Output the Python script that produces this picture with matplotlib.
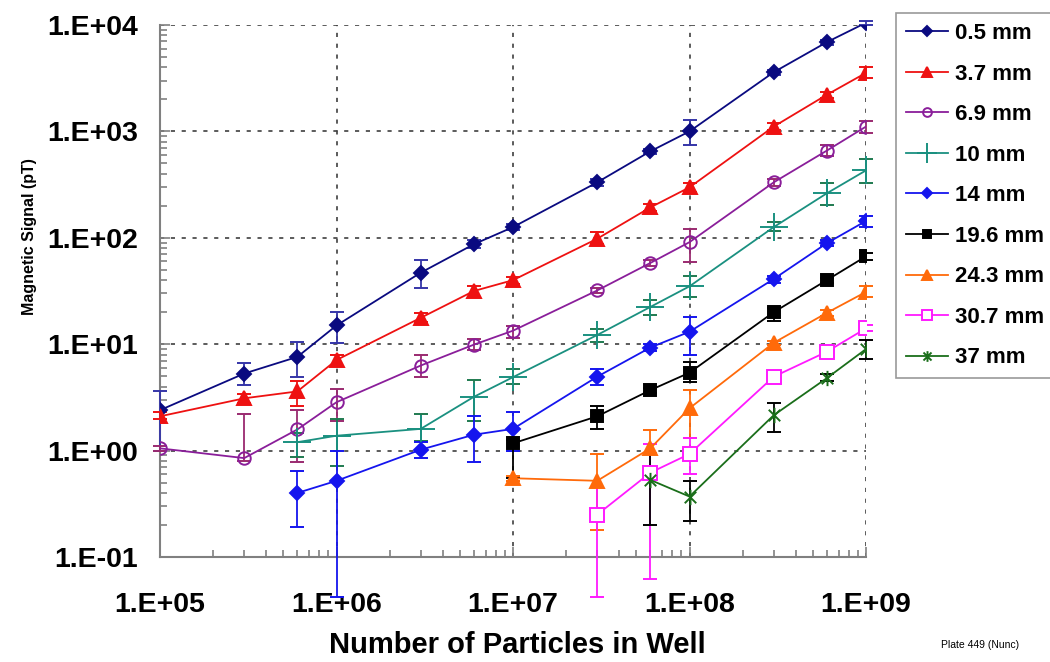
"""Magnetic signal versus particle count for several sensor distances (log-log)."""

import numpy as np
import matplotlib

matplotlib.use("Agg")
import matplotlib.pyplot as plt
from matplotlib.path import Path
from matplotlib.ticker import FuncFormatter, LogLocator, NullFormatter

nan = np.nan

particles = [1e5, 3e5, 6e5, 1e6, 3e6, 6e6, 1e7, 3e7, 6e7, 1e8, 3e8, 6e8, 1e9]

labels = ["0.5 mm", "3.7 mm", "6.9 mm", "10 mm", "14 mm",
          "19.6 mm", "24.3 mm", "30.7 mm", "37 mm"]

# signal (pT) and the low / high ends of each error bar
sig_05 = [2.4, 5.3, 7.6, 15, 47, 87, 126, 332, 650, 1000, 3600, 6900, 10500]
lo_05 = [1.0, 4.1, 4.9, 10.3, 34, 80, 118, 310, 610, 740, 3400, 6500, 10000]
hi_05 = [3.6, 6.7, 10.5, 20, 62, 95, 135, 355, 690, 1290, 3800, 7300, 11000]

sig_37 = [2.1, 3.1, 3.6, 7.1, 17.7, 31.6, 40, 98, 193, 298, 1110, 2210, 3550]
lo_37 = [2.0, 2.8, 2.6, 6.2, 16, 28, 37, 87, 180, 270, 1040, 2080, 3200]
hi_37 = [2.3, 3.4, 4.5, 7.9, 19.5, 35, 43, 114, 207, 330, 1190, 2350, 4000]

sig_69 = [1.05, 0.85, 1.58, 2.85, 6.3, 9.9, 13.4, 32, 58, 91, 332, 660, 1110]
lo_69 = [1.0, 0.8, 0.78, 1.9, 4.9, 8.8, 11.5, 30, 54, 59, 310, 590, 970]
hi_69 = [1.1, 2.2, 2.4, 3.8, 7.9, 11.2, 14.8, 34, 62, 120, 355, 740, 1240]

sig_10 = [nan, nan, 1.2, 1.38, 1.6, 3.2, 4.9, 12.2, 22.4, 35, 126, 262, 430]
lo_10 = [nan, nan, 0.88, 0.71, 1.22, 1.9, 4.2, 10.5, 19, 28, 115, 204, 330]
hi_10 = [nan, nan, 1.45, 2.0, 2.2, 4.6, 5.9, 14, 26, 43.6, 140, 330, 556]

sig_14 = [nan, nan, 0.4, 0.52, 1.02, 1.41, 1.6, 4.95, 9.3, 13.1, 41, 89, 144]
lo_14 = [nan, nan, 0.19, 0.042, 0.85, 0.78, 0.99, 4.1, 8.7, 7.9, 38, 84, 125]
hi_14 = [nan, nan, 0.64, 1.0, 1.2, 2.1, 2.3, 5.8, 10, 18, 44, 95, 160]

sig_196 = [nan] * 6 + [1.17, 2.1, 3.7, 5.4, 20, 40, 67]
lo_196 = [nan] * 6 + [0.55, 1.6, 3.5, 4.4, 16.5, 38, 62]
hi_196 = [nan] * 6 + [1.25, 2.6, 3.9, 6.8, 22, 42, 72]

sig_243 = [nan] * 6 + [0.55, 0.52, 1.05, 2.5, 10.3, 19.7, 31]
lo_243 = [nan] * 6 + [0.52, 0.18, 0.95, 1.3, 9.8, 18.5, 28]
hi_243 = [nan] * 6 + [0.58, 0.93, 1.55, 3.7, 10.8, 21, 35]

sig_307 = [nan] * 7 + [0.25, 0.62, 0.93, 4.95, 8.5, 14.1]
lo_307 = [nan] * 7 + [0.042, 0.062, 0.6, 4.7, 8.0, 13.3]
hi_307 = [nan] * 7 + [0.45, 1.15, 1.3, 5.2, 9.3, 15]

sig_370 = [nan] * 8 + [0.53, 0.37, 2.15, 4.8, 9.0]
lo_370 = [nan] * 8 + [0.2, 0.22, 1.5, 4.5, 7.3]
hi_370 = [nan] * 8 + [0.93, 0.52, 2.8, 5.2, 11]

# asterisk: an X crossed by a vertical stroke
STAR = Path(
    [(0, -1), (0, 1), (-0.75, -0.75), (0.75, 0.75), (-0.75, 0.75), (0.75, -0.75)],
    [Path.MOVETO, Path.LINETO] * 3,
)

styles = [
    dict(color="#0a0a80", ecolor="#3535a8", marker="D", ms=7, mfc="#0a0a80"),
    dict(color="#ee1111", ecolor="#ee1111", marker="^", ms=10, mfc="#ee1111"),
    dict(color="#8a1e9a", ecolor="#9a2a70", marker="o", ms=9, mfc="none"),
    dict(color="#1a9080", ecolor="#1f7a50", marker="+", ms=20, mfc="none"),
    dict(color="#1515ee", ecolor="#1515ee", marker="D", ms=7, mfc="#1515ee"),
    dict(color="#000000", ecolor="#000000", marker="s", ms=9, mfc="#000000"),
    dict(color="#ff6a0a", ecolor="#ff6a0a", marker="^", ms=10, mfc="#ff6a0a"),
    dict(color="#ff1aff", ecolor="#ff1aff", marker="s", ms=9.5, mfc="white"),
    dict(color="#1a6e1a", ecolor="#000000", marker=STAR, ms=11, mfc="none"),
]

series = [
    (sig_05, lo_05, hi_05), (sig_37, lo_37, hi_37), (sig_69, lo_69, hi_69),
    (sig_10, lo_10, hi_10), (sig_14, lo_14, hi_14), (sig_196, lo_196, hi_196),
    (sig_243, lo_243, hi_243), (sig_307, lo_307, hi_307), (sig_370, lo_370, hi_370),
]

FONT = ["Liberation Sans", "DejaVu Sans"]

fig = plt.figure(figsize=(10.5, 6.62), dpi=100)
ax = fig.add_axes([160 / 1050, 105 / 662, 706 / 1050, 532 / 662])

x = np.array(particles)
handles = []
for (sig, lo, hi), st, lab in zip(series, styles, labels):
    y = np.array(sig, dtype=float)
    lo = np.array(lo, dtype=float)
    hi = np.array(hi, dtype=float)
    keep = ~np.isnan(y)
    err = np.vstack([y[keep] - lo[keep], hi[keep] - y[keep]])
    line, caps, bars = ax.errorbar(
        x[keep], y[keep], yerr=err, color=st["color"], ecolor=st["ecolor"],
        elinewidth=1.3, capsize=5, capthick=1.3, lw=1.3,
        marker=st["marker"], ms=st["ms"], mfc=st["mfc"], mec=st["color"],
        mew=1.4, label=lab, zorder=3,
    )
    # error bars are allowed to run past the plot frame
    for c in caps:
        c.set_clip_on(False)
    for b in bars:
        b.set_clip_on(False)
    handles.append(line)

ax.set_xscale("log")
ax.set_yscale("log")
ax.set_xlim(1e5, 1e9)
ax.set_ylim(0.1, 1e4)

fmt = FuncFormatter(lambda v, _: f"1.E{int(round(np.log10(v))):+03d}")
for axis in (ax.xaxis, ax.yaxis):
    axis.set_major_locator(LogLocator(base=10, numticks=20))
    axis.set_minor_locator(LogLocator(base=10, subs=np.arange(2, 10), numticks=20))
    axis.set_major_formatter(fmt)
    axis.set_minor_formatter(NullFormatter())

ax.tick_params(which="both", direction="in", color="#808080", width=1.2)
ax.tick_params(which="major", length=7)
ax.tick_params(which="minor", length=5)
ax.tick_params(axis="x", which="major", pad=25)
ax.tick_params(axis="y", which="major", pad=16)
for lbl in ax.get_xticklabels() + ax.get_yticklabels():
    lbl.set_family(FONT)
    lbl.set_fontweight("bold")
    lbl.set_fontsize(20.5)

ax.grid(which="major", linestyle=(0, (2.5, 4)), color="#404040", linewidth=1.2)
for side in ("top", "right"):
    ax.spines[side].set_visible(False)
for side in ("left", "bottom"):
    ax.spines[side].set_color("#808080")
    ax.spines[side].set_linewidth(1.5)

fig.text(517 / 1050, 1 - 645 / 662, "Number of Particles in Well", family=FONT,
         fontweight="bold", fontsize=21, ha="center", va="center")
fig.text(0.028, 0.642, "Magnetic Signal (pT)", rotation=90, ha="center", va="center",
         family=FONT, fontweight="bold", fontsize=11.5)
fig.text(980 / 1050, 1 - 645 / 662, "Plate 449 (Nunc)", family=FONT, fontsize=7.5,
         ha="center", va="center")

leg = fig.legend(
    handles, labels, loc="upper left", bbox_to_anchor=(896 / 1050, 1 - 13 / 662),
    borderaxespad=0, frameon=True, fancybox=False, edgecolor="#808080",
    prop=dict(family=FONT, weight="bold", size=16), labelspacing=0.88,
    handlelength=1.9, handletextpad=0.3, markerscale=0.7, borderpad=0.45,
)
leg.get_frame().set_linewidth(1.2)

fig.savefig("out.png", dpi=100)
